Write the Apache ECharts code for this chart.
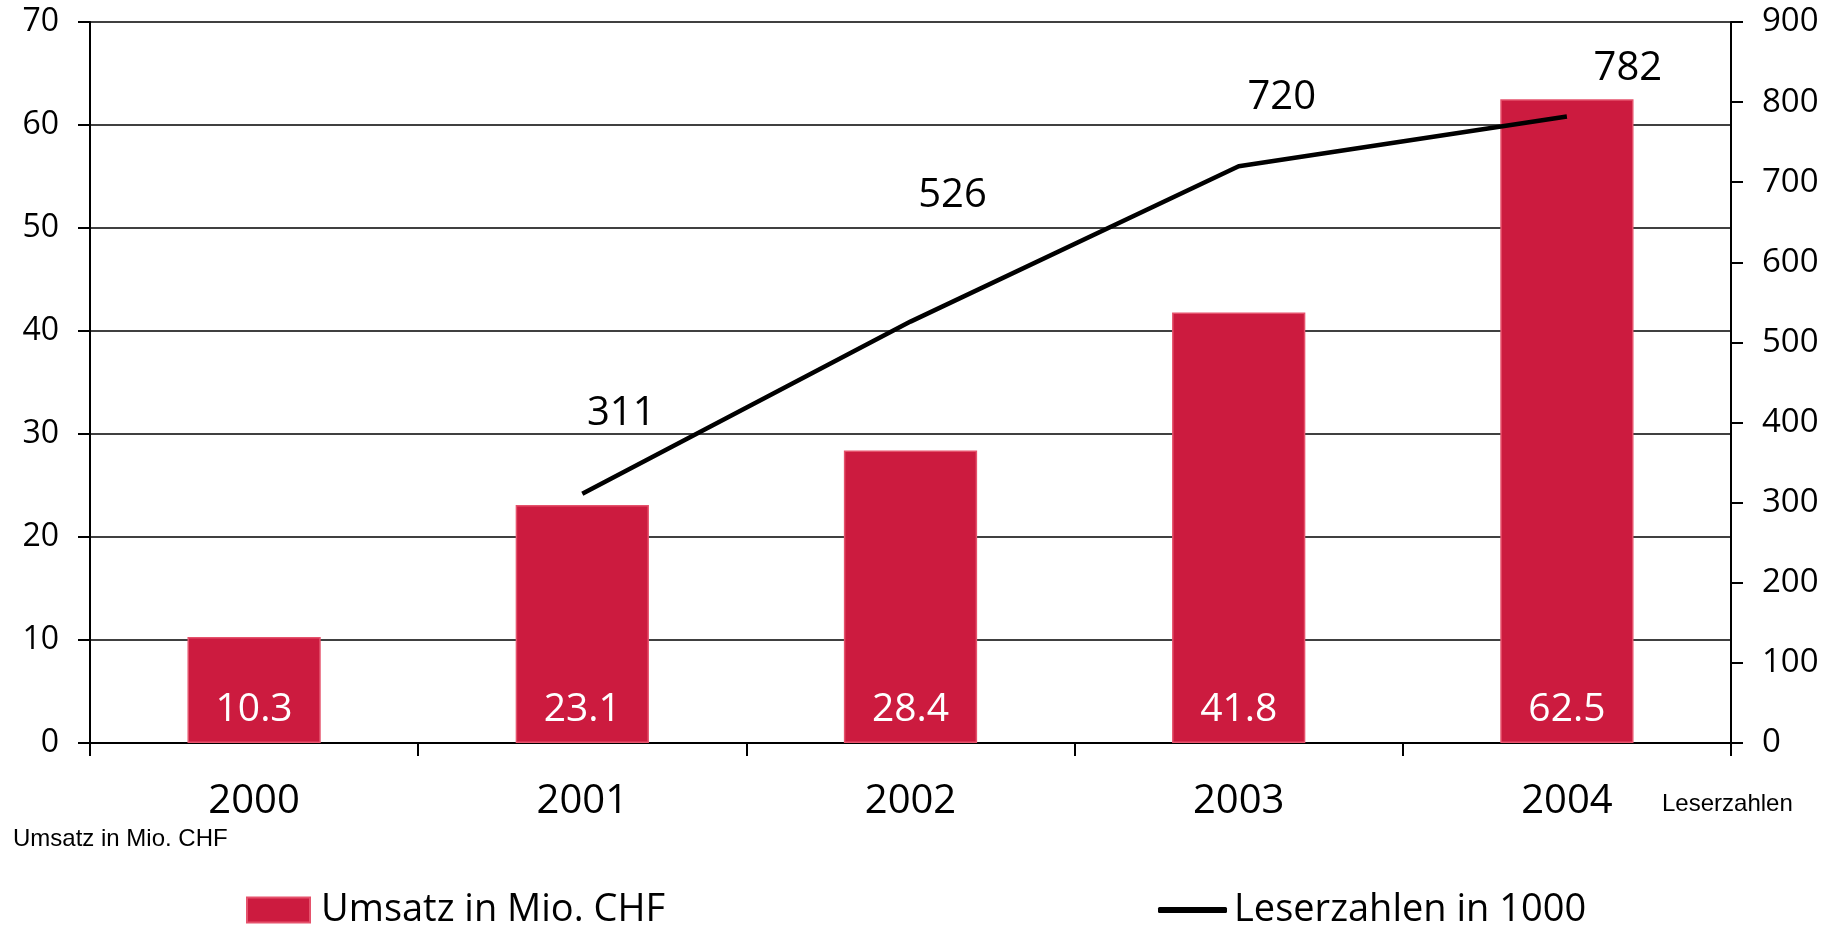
<!DOCTYPE html>
<html><head><meta charset="utf-8">
<script src="https://cdn.jsdelivr.net/npm/echarts@6/dist/echarts.min.js"></script>
<style>html,body{margin:0;padding:0;background:#fff}#c{width:1836px;height:927px}</style>
</head><body><div id="c"></div>
<script>
const years = ['2000','2001','2002','2003','2004'];
const umsatz = [10.3, 23.1, 28.4, 41.8, 62.5];
const leser = [null, 311, 526, 720, 782];
const leftTicks = [0, 10, 20, 30, 40, 50, 60, 70];
const rightTicks = [0, 100, 200, 300, 400, 500, 600, 700, 800, 900];
const barName = 'Umsatz in Mio. CHF';
const lineName = 'Leserzahlen in 1000';

const labelOffsets = [[0,0],[39,-80],[42,-126],[43,-69],[61,-48]];
const FONT = 'Open Sans';
const chart = echarts.init(document.getElementById('c'), null, {renderer:'canvas'});
chart.setOption({
  animation:false,
  backgroundColor:'#fff',
  grid:{left:90,right:105,top:22,bottom:184},
  legend:[
    {data:[{name:barName,icon:'rect'}],left:241,top:886,itemWidth:63,itemHeight:25,
     textStyle:{fontFamily:FONT,fontSize:38,color:'#000',padding:[0,0,0,6]}},
    {data:[{name:lineName,icon:'roundRect'}],left:1153,top:886,itemWidth:69,itemHeight:6,
     itemStyle:{color:'#000',borderWidth:0},
     textStyle:{fontFamily:FONT,fontSize:38,color:'#000',padding:[0,0,0,2]}}
  ],
  xAxis:{type:'category',data:years,
    axisLine:{lineStyle:{color:'#000',width:2}},
    axisTick:{show:true,length:13,lineStyle:{color:'#000',width:2}},
    axisLabel:{fontFamily:FONT,fontSize:40,color:'#000',margin:39}},
  yAxis:[
    {type:'value',min:leftTicks[0],max:leftTicks[leftTicks.length-1],interval:10,position:'left',
     axisLine:{show:true,lineStyle:{color:'#000',width:2}},
     axisTick:{show:true,length:12,lineStyle:{color:'#000',width:2}},
     splitLine:{show:true,lineStyle:{color:'#000',width:1.5}},
     axisLabel:{fontFamily:FONT,fontSize:32,color:'#000',margin:31}},
    {type:'value',min:rightTicks[0],max:rightTicks[rightTicks.length-1],interval:100,position:'right',
     axisLine:{show:true,lineStyle:{color:'#000',width:2}},
     axisTick:{show:true,length:12,lineStyle:{color:'#000',width:2}},
     splitLine:{show:false},
     axisLabel:{fontFamily:FONT,fontSize:33,color:'#000',margin:31}}
  ],
  series:[
    {name:barName,type:'bar',data:umsatz,yAxisIndex:0,barWidth:'40.6%',
     itemStyle:{color:'#CC1B3F',borderColor:'#E5526C',borderWidth:1.5},
     label:{show:true,position:'insideBottom',distance:14,color:'#fff',fontFamily:FONT,fontSize:39,
       formatter:p=>p.value.toFixed(1)}},
    {name:lineName,type:'line',data:leser.map((v,i)=>({value:v,label:{offset:labelOffsets[i]}})),
     yAxisIndex:1,showSymbol:true,symbol:'circle',symbolSize:0.01,connectNulls:false,
     lineStyle:{color:'#000',width:4.5},itemStyle:{color:'#000'},
     label:{show:true,position:'inside',color:'#000',fontFamily:FONT,fontSize:40}}
  ],
  graphic:[
    {type:'text',left:13,top:827,style:{text:'Umsatz in Mio. CHF',font:'24px "Liberation Sans"',fill:'#000'}},
    {type:'text',left:1662,top:792,style:{text:'Leserzahlen',font:'24px "Liberation Sans"',fill:'#000'}}
  ]
});
</script></body></html>
